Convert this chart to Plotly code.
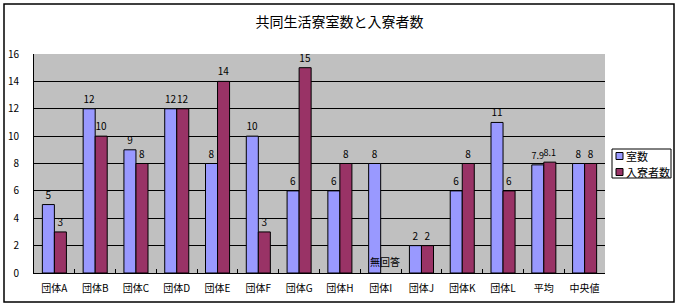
import plotly.graph_objects as go

categories = ["団体A", "団体B", "団体C", "団体D", "団体E", "団体F", "団体G",
              "団体H", "団体I", "団体J", "団体K", "団体L", "平均", "中央値"]
rooms = [5, 12, 9, 12, 8, 10, 6, 6, 8, 2, 6, 11, 7.9, 8]
residents = [3, 10, 8, 12, 14, 3, 15, 8, None, 2, 8, 6, 8.1, 8]
y_ticks = [0, 2, 4, 6, 8, 10, 12, 14, 16]
series_names = ["室数", "入寮者数"]
series_colors = ["#9999FF", "#993366"]

FONT = "Noto Sans CJK JP"
PW, PH = 571, 219  # plot area size in px
L, B = 34, 35


def lbl(v):
    return "" if v is None else (str(v) if v != int(v) else str(int(v)))


def fsize(v):
    return 9 if (v is not None and v != int(v)) else 10


fig = go.Figure()
for name, color, vals in zip(series_names, series_colors, [rooms, residents]):
    fig.add_trace(go.Bar(
        name=name, x=categories, y=vals,
        text=[lbl(v) for v in vals], textposition="outside",
        textfont=dict(size=[fsize(v) for v in vals], color="black", family=FONT),
        constraintext="none",
        marker=dict(color=color, line=dict(color="black", width=1)),
        cliponaxis=False, showlegend=False,
    ))

for c, v in zip(categories, residents):
    if v is None:
        fig.add_annotation(x=c, y=0, text="無回答", showarrow=False,
                           xshift=4, yanchor="bottom", yshift=2,
                           font=dict(size=10, color="black", family=FONT))


def px_x(p):
    return (p - L) / PW


def px_y(p):
    return (308 - B - p) / PH


shapes = [dict(type="rect", xref="paper", yref="paper",
               x0=px_x(4), x1=px_x(674), y0=px_y(302), y1=px_y(4),
               line=dict(color="black", width=1.5), layer="below"),
          dict(type="rect", xref="paper", yref="paper",
               x0=px_x(612), x1=px_x(671), y0=px_y(178), y1=px_y(149),
               line=dict(color="black", width=1), fillcolor="white")]
for i, (name, color) in enumerate(zip(series_names, series_colors)):
    cy = 156 + i * 16
    shapes.append(dict(type="rect", xref="paper", yref="paper",
                       x0=px_x(616), x1=px_x(623), y0=px_y(cy + 3.5), y1=px_y(cy - 3.5),
                       line=dict(color="black", width=1), fillcolor=color))
    fig.add_annotation(xref="paper", yref="paper", x=px_x(624), y=px_y(cy),
                       xanchor="left", yanchor="middle", text=name, showarrow=False,
                       font=dict(size=11, color="black", family=FONT))

fig.update_layout(
    width=679, height=308,
    margin=dict(l=L, r=679 - L - PW, t=308 - B - PH, b=B, autoexpand=False),
    paper_bgcolor="white", plot_bgcolor="#C0C0C0",
    barmode="group", bargap=0.41, bargroupgap=0,
    title=dict(text="共同生活寮室数と入寮者数", x=0.5, xanchor="center",
               y=1 - 22 / 308, yanchor="middle",
               font=dict(size=14, color="black", family=FONT)),
    font=dict(family=FONT, color="black"),
    showlegend=False,
    xaxis=dict(showline=True, linecolor="black", linewidth=1,
               ticks="inside", ticklen=4, tickcolor="black",
               tickson="boundaries", showgrid=False, tickangle=0,
               automargin=False, ticklabelstandoff=6,
               tickfont=dict(size=10, family=FONT), mirror=False),
    yaxis=dict(range=[0, 16], tickvals=y_ticks, showline=True,
               linecolor="black", linewidth=1, showgrid=True,
               gridcolor="black", gridwidth=1, zeroline=False,
               automargin=False,
               tickfont=dict(size=10, family=FONT), ticks="", ticklabelstandoff=12),
    shapes=shapes,
)

fig.write_html("out.html")
